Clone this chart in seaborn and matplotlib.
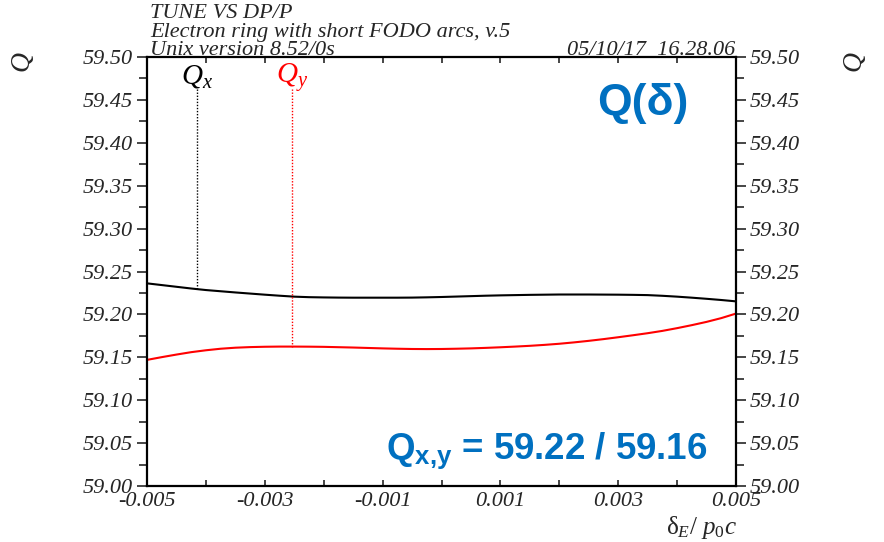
import numpy as np
import pandas as pd
import seaborn as sns
import matplotlib
matplotlib.use("Agg")
import matplotlib.pyplot as plt
from matplotlib.ticker import FixedLocator, MultipleLocator, FormatStrFormatter

# Relative energy deviation and the resulting tunes
delta = [-0.00500, -0.00475, -0.00450, -0.00425, -0.00400, -0.00375, -0.00350,
         -0.00325, -0.00300, -0.00275, -0.00250, -0.00225, -0.00200, -0.00175,
         -0.00150, -0.00125, -0.00100, -0.00075, -0.00050, -0.00025, 0.00000,
         0.00025, 0.00050, 0.00075, 0.00100, 0.00125, 0.00150, 0.00175,
         0.00200, 0.00225, 0.00250, 0.00275, 0.00300, 0.00325, 0.00350,
         0.00375, 0.00400, 0.00425, 0.00450, 0.00475, 0.00500]
qx = [59.2362, 59.2342, 59.2322, 59.2302, 59.2284, 59.2270, 59.2256,
      59.2243, 59.2230, 59.2218, 59.2207, 59.2201, 59.2198, 59.2196,
      59.2195, 59.2195, 59.2195, 59.2195, 59.2196, 59.2199, 59.2203,
      59.2208, 59.2213, 59.2218, 59.2222, 59.2225, 59.2228, 59.2230,
      59.2232, 59.2232, 59.2232, 59.2231, 59.2230, 59.2228, 59.2225,
      59.2217, 59.2207, 59.2195, 59.2182, 59.2168, 59.2152]
qy = [59.1470, 59.1502, 59.1532, 59.1560, 59.1582, 59.1600, 59.1612,
      59.1619, 59.1623, 59.1625, 59.1625, 59.1624, 59.1622, 59.1618,
      59.1614, 59.1609, 59.1604, 59.1600, 59.1597, 59.1596, 59.1597,
      59.1600, 59.1604, 59.1610, 59.1617, 59.1625, 59.1634, 59.1645,
      59.1658, 59.1674, 59.1692, 59.1712, 59.1734, 59.1757, 59.1781,
      59.1808, 59.1840, 59.1875, 59.1913, 59.1957, 59.2010]

xticks = [-0.005, -0.003, -0.001, 0.001, 0.003, 0.005]
xtick_labels = ["-0.005", "-0.003", "-0.001", "0.001", "0.003", "0.005"]
yticks = [59.00, 59.05, 59.10, 59.15, 59.20, 59.25, 59.30, 59.35, 59.40, 59.45, 59.50]

# Where the plane labels are attached to the curves
qx_label_delta = -0.00415
qy_label_delta = -0.00254
tune_x, tune_y = 59.22, 59.16

sns.set_style("ticks")
plt.rcParams["font.family"] = ["Liberation Serif", "DejaVu Serif"]
plt.rcParams["mathtext.fontset"] = "custom"
plt.rcParams["mathtext.rm"] = "Liberation Serif"
plt.rcParams["mathtext.it"] = "Liberation Serif:italic"
plt.rcParams["mathtext.bf"] = "Liberation Sans:bold"

BLUE = "#0070C0"

df = pd.DataFrame({
    "delta": delta * 2,
    "Q": qx + qy,
    "plane": ["Qx"] * len(delta) + ["Qy"] * len(delta),
})

fig = plt.figure(figsize=(8.84, 5.42), dpi=100)
ax = fig.add_axes([0.1663, 0.1033, 0.6663, 0.7915])

sns.lineplot(data=df, x="delta", y="Q", hue="plane",
             palette={"Qx": "black", "Qy": "red"}, legend=False,
             linewidth=1.5, ax=ax)

ax.set_xlim(-0.005, 0.005)
ax.set_ylim(59.0, 59.5)
ax.set_xlabel("")
ax.set_ylabel("")

for s in ax.spines.values():
    s.set_linewidth(1.6)
    s.set_color("black")
    s.set_visible(True)

ax.xaxis.set_major_locator(FixedLocator(xticks))
ax.set_xticklabels(xtick_labels)
ax.xaxis.set_minor_locator(MultipleLocator(0.001))
ax.yaxis.set_major_locator(FixedLocator(yticks))
ax.yaxis.set_major_formatter(FormatStrFormatter("%.2f"))
ax.yaxis.set_minor_locator(MultipleLocator(0.025))

ax.tick_params(axis="x", which="both", direction="in", top=True, bottom=True,
               length=4, width=1.2, pad=4, labelsize=16)
ax.tick_params(axis="y", which="major", direction="out", left=True, right=True,
               labelleft=True, labelright=True, length=7, width=1.2, pad=3,
               labelsize=16)
ax.tick_params(axis="y", which="minor", direction="out", left=True, right=True,
               length=6, width=1.2)
for lab in ax.get_xticklabels() + ax.get_yticklabels():
    lab.set_fontstyle("italic")

# Plane labels with dotted leaders down to the curves
qx_at = np.interp(qx_label_delta, delta, qx)
qy_at = np.interp(qy_label_delta, delta, qy)
ax.vlines(qx_label_delta, qx_at, 59.463, colors="black", linestyles=(0, (1, 1.2)), linewidth=1)
ax.vlines(qy_label_delta, qy_at, 59.463, colors="red", linestyles=(0, (1, 1.2)), linewidth=1)
ax.text(qx_label_delta, 59.4697, r"$Q_x$", ha="center", va="baseline", fontsize=21, color="black")
ax.text(qy_label_delta, 59.4697, r"$Q_y$", ha="center", va="baseline", fontsize=21, color="red")

# Header lines
hdr = dict(fontsize=16, fontstyle="italic", va="baseline")
fig.text(150 / 884, 1 - 18 / 542, "TUNE VS DP/P", ha="left", **hdr)
fig.text(150 / 884, 1 - 37 / 542, "Electron ring with short FODO arcs, v.5", ha="left", **hdr)
fig.text(150 / 884, 1 - 55 / 542, "Unix version 8.52/0s", ha="left", **hdr)
fig.text(735 / 884, 1 - 55 / 542, "05/10/17  16.28.06", ha="right", **hdr)

# Axis titles
fig.text(23 / 884, 1 - 62 / 542, r"$Q$", rotation=90, ha="center", va="center", fontsize=20)
fig.text(855 / 884, 1 - 62 / 542, r"$Q$", rotation=90, ha="center", va="center", fontsize=20)
fig.text(737 / 884, 1 - 534 / 542, r"$\mathrm{\delta}_{E}$/ $p_{0}c$", ha="right",
         va="baseline", fontsize=18)

# Annotations
fig.text(643 / 884, 1 - 103 / 542, "Q(δ)", ha="center", va="center", color=BLUE,
         fontsize=32, fontweight="bold", family=["Liberation Sans", "DejaVu Sans"])
fig.text(547 / 884, 1 - 451 / 542,
         r"$\mathbf{Q}_{\mathbf{x{,}y}}$" + f" = {tune_x:.2f} / {tune_y:.2f}",
         ha="center", va="center", color=BLUE, fontsize=26.5, fontweight="bold",
         family=["Liberation Sans", "DejaVu Sans"])

fig.savefig("out.png", dpi=100)
